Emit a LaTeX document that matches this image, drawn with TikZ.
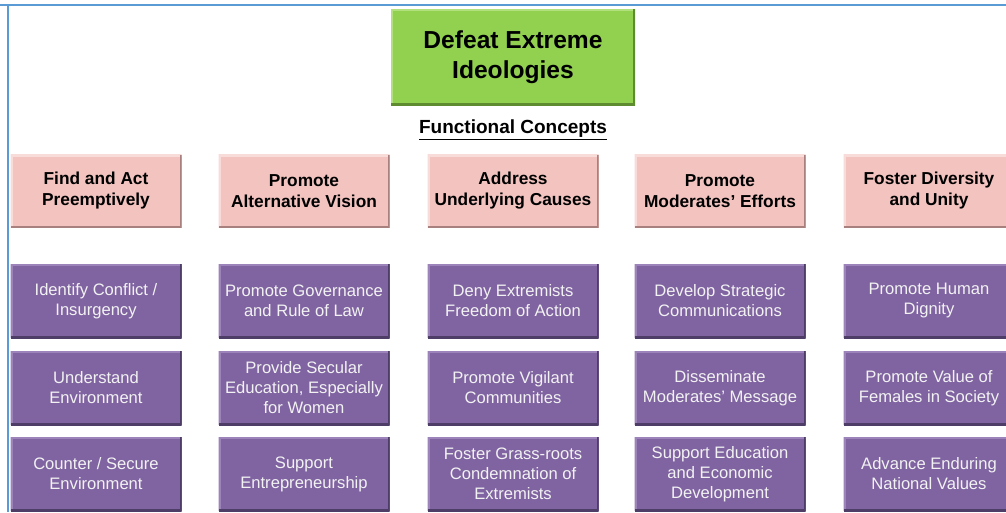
\documentclass[tikz,border=0pt]{standalone}
\usepackage{fontspec}
\setmainfont{Liberation Sans}
\definecolor{goalgreen}{HTML}{92D050}
\definecolor{goallight}{HTML}{B2E07E}
\definecolor{goaldark}{HTML}{5E8A30}
\definecolor{conpink}{HTML}{F2C3BF}
\definecolor{conlight}{HTML}{F8DCD9}
\definecolor{condark}{HTML}{A8817E}
\definecolor{taskpurple}{HTML}{8064A2}
\definecolor{tasklight}{HTML}{9C84BA}
\definecolor{taskdark}{HTML}{4E3D66}
\definecolor{frameblue}{HTML}{5B9BD5}
\definecolor{tasktext}{HTML}{F2F2F2}
\tikzset{
  bevel/.style n args={2}{path picture={
    \draw[#1,line width=4pt] (path picture bounding box.south west) -- (path picture bounding box.north west) -- (path picture bounding box.north east);
    \draw[#2,line width=4pt] (path picture bounding box.north east) -- (path picture bounding box.south east) -- (path picture bounding box.south west);
  }}
}
\begin{document}
\begin{tikzpicture}[x=1pt,y=-1pt,
  goalbox/.style={fill=goalgreen,bevel={goallight}{goaldark},minimum width=244pt,minimum height=96pt,inner sep=0pt,
    align=center,font=\bfseries\fontsize{24.6}{30}\selectfont},
  conbox/.style={fill=conpink,bevel={conlight}{condark},minimum width=171pt,minimum height=73pt,inner sep=0pt,
    align=center,font=\bfseries\fontsize{17.3}{21}\selectfont},
  taskbox/.style={fill=taskpurple,bevel={tasklight}{taskdark},minimum width=171pt,minimum height=74pt,inner sep=0pt,
    align=center,text=tasktext,font=\fontsize{16.6}{20}\selectfont}]
\useasboundingbox (0,0) rectangle (1006,512);
\begin{scope}
\clip (0,0) rectangle (1006,512);
\fill[white] (0,0) rectangle (1006,512);
\draw[frameblue,line width=2pt] (0,5) -- (1006,5);
\draw[frameblue,line width=2pt] (8,5) -- (8,512);

\node[goalbox] (goal) at (513,57) {Defeat Extreme\\Ideologies};
\node[font=\bfseries\fontsize{19}{22}\selectfont] (fc) at (513,130) {\underline{Functional Concepts}};

\node[conbox] (c1) at (96,191) {Find and Act\\Preemptively};
\node[conbox] (c2) at (304,191) {Promote\\Alternative Vision};
\node[conbox] (c3) at (513,191) {Address\\Underlying Causes};
\node[conbox] (c4) at (720,191) {Promote\\Moderates’ Efforts};
\node[conbox] (c5) at (929,191) {Foster Diversity\\and Unity};

\node[taskbox] (t11) at (96,301) {Identify Conflict /\\Insurgency};
\node[taskbox] (t12) at (96,388) {Understand\\Environment};
\node[taskbox] (t13) at (96,474) {Counter / Secure\\Environment};

\node[taskbox] (t21) at (304,301) {Promote Governance\\and Rule of Law};
\node[taskbox] (t22) at (304,388) {Provide Secular\\Education, Especially\\for Women};
\node[taskbox] (t23) at (304,474) {Support\\Entrepreneurship};

\node[taskbox] (t31) at (513,301) {Deny Extremists\\Freedom of Action};
\node[taskbox] (t32) at (513,388) {Promote Vigilant\\Communities};
\node[taskbox] (t33) at (513,474) {Foster Grass-roots\\Condemnation of\\Extremists};

\node[taskbox] (t41) at (720,301) {Develop Strategic\\Communications};
\node[taskbox] (t42) at (720,388) {Disseminate\\Moderates’ Message};
\node[taskbox] (t43) at (720,474) {Support Education\\and Economic\\Development};

\node[taskbox] (t51) at (929,301) {Promote Human\\Dignity};
\node[taskbox] (t52) at (929,388) {Promote Value of\\Females in Society};
\node[taskbox] (t53) at (929,474) {Advance Enduring\\National Values};
\end{scope}
\end{tikzpicture}
\end{document}
